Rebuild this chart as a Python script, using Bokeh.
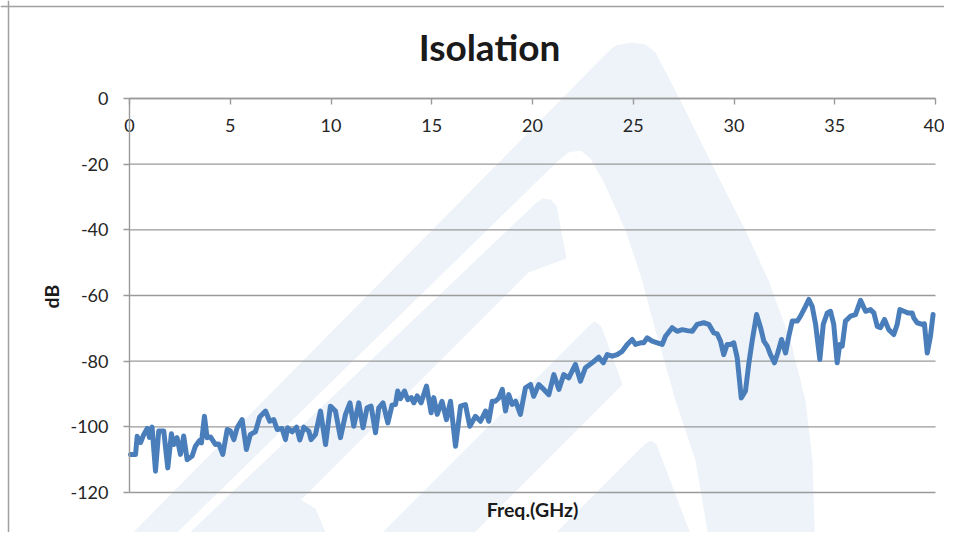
from math import pi
from bokeh.plotting import figure
from bokeh.models import LinearAxis, FixedTicker, Label, Span
from bokeh.embed import file_html
from bokeh.resources import INLINE

# ---------------- data ----------------
freq_ghz = [
    0.05, 0.3, 0.38, 0.55, 0.71, 0.88, 0.99, 1.12, 1.29, 1.45, 1.7, 1.9, 2.08, 2.2, 2.36,
    2.53, 2.69, 2.86, 3.11, 3.27, 3.47, 3.57, 3.72, 3.85, 4.02, 4.27, 4.43, 4.63, 4.85,
    5.01, 5.18, 5.34, 5.59, 5.8, 6.0, 6.25, 6.46, 6.75, 6.96, 7.16, 7.33, 7.57, 7.74,
    7.85, 8.07, 8.29, 8.45, 8.65, 8.9, 9.01, 9.23, 9.48, 9.73, 9.97, 10.22, 10.47, 10.72,
    10.94, 11.13, 11.38, 11.59, 11.79, 11.99, 12.21, 12.37, 12.58, 12.82, 13.03, 13.2,
    13.31, 13.45, 13.65, 13.81, 13.98, 14.11, 14.28, 14.47, 14.74, 14.97, 15.1, 15.27,
    15.51, 15.73, 15.93, 16.18, 16.43, 16.67, 16.89, 17.17, 17.42,
    17.67, 17.83, 18.0, 18.16, 18.33, 18.5, 18.66, 18.82, 18.99, 19.16, 19.4, 19.65,
    19.9, 20.06, 20.31, 20.56, 20.81, 21.06, 21.31, 21.55, 21.8, 22.13, 22.38, 22.63,
    22.96, 23.29, 23.51, 23.71, 23.96, 24.2, 24.45, 24.7, 24.95, 25.11, 25.36, 25.52,
    25.69, 25.94, 26.19, 26.44, 26.6, 26.93, 27.18, 27.43, 27.68, 27.93, 28.17, 28.5,
    28.75, 29.0, 29.17, 29.33, 29.49, 29.66, 29.83, 29.99, 30.16, 30.36, 30.57, 30.73,
    30.9, 31.12, 31.32, 31.48, 31.65, 31.81, 32.01, 32.17, 32.36, 32.56, 32.72, 32.89,
    33.14, 33.3, 33.55, 33.71, 33.88, 34.05, 34.26, 34.43, 34.63, 34.79, 34.95, 35.12,
    35.25, 35.37, 35.53, 35.78, 36.03, 36.28, 36.53, 36.77, 36.94, 37.11, 37.27, 37.47,
    37.68, 37.93, 38.1, 38.23, 38.43, 38.63, 38.84, 38.92, 39.09, 39.34, 39.45, 39.59,
    39.75, 39.88,
]
isolation_db = [
    -108.4, -108.4, -102.9, -104.8, -102.3, -100.5, -103.2, -100.1, -113.5, -101.3, -101.3,
    -112.5, -102.1, -105.4, -103.3, -108.4, -102.8, -110.0, -108.9, -105.9, -104.2, -104.9,
    -96.8, -103.3, -103.1, -105.4, -105.2, -108.4, -100.8, -101.3, -103.9, -100.3, -97.8,
    -106.9, -102.3, -101.5, -97.0, -95.2, -98.3, -97.8, -100.8, -100.5, -103.9, -100.3,
    -101.5, -100.1, -104.0, -100.1, -101.3, -103.9, -102.3, -95.2, -105.4, -93.7, -95.2,
    -103.3, -96.2, -92.7, -99.8, -92.7, -100.3, -94.2, -93.7, -101.8, -94.2, -92.7, -98.8,
    -93.4, -93.2, -89.1, -91.4, -89.1, -91.7, -91.1, -92.7, -90.6, -92.7, -87.6, -95.7,
    -91.1, -96.2, -92.2, -97.8, -92.2, -105.9, -93.7, -93.2, -99.8, -96.8, -98.3,
    -95.2, -98.3, -92.2, -92.2, -91.2, -88.6, -95.2, -90.2, -93.2, -92.2, -96.2, -88.1,
    -87.1, -90.7, -87.1, -88.6, -90.2, -84.1, -88.6, -84.1, -85.1, -81.0, -86.1, -82.0,
    -80.5, -78.8, -80.5, -78.0, -78.5, -78.0, -77.0, -74.9, -73.4, -74.9, -74.4, -74.4,
    -72.9, -73.9, -74.4, -74.9, -72.4, -69.8, -70.9, -70.4, -70.7, -70.9, -68.8, -68.3,
    -68.8, -71.4, -71.7, -73.9, -78.0, -74.9, -74.9, -74.4, -79.0, -91.2, -89.1, -81.0,
    -73.9, -65.8, -69.8, -73.9, -75.4, -78.0, -80.5, -77.5, -73.4, -77.5, -72.4, -67.8,
    -67.8, -66.3, -63.3, -61.2, -63.3, -68.8, -79.5, -68.8, -65.3, -64.8, -68.8, -80.5,
    -74.9, -75.4, -67.8, -66.3, -65.8, -61.5, -64.8, -64.3, -65.3, -69.4, -69.8, -67.3,
    -70.4, -71.9, -68.8, -64.3, -64.8, -65.3, -65.3, -66.8, -68.3, -68.8, -68.6, -77.5,
    -72.4, -65.8,
]
x_ticks = [0, 5, 10, 15, 20, 25, 30, 35, 40]
y_ticks = [0, -20, -40, -60, -80, -100, -120]
title_text = "Isolation"
x_title = "Freq.(GHz)"
y_title = "dB"

# ---------------- layout ----------------
W, H = 944, 532
X0_PX, X1_PX = 129.0, 935.0     # canvas px of x = 0 and x = 40
Y0_PX, Y1_PX = 98.0, 492.0      # canvas px of y = 0 and y = -120
x_lo, x_hi = x_ticks[0], x_ticks[-1]
y_hi, y_lo = y_ticks[0], y_ticks[-1]
kx = (X1_PX - X0_PX) / (x_hi - x_lo)
ky = (Y1_PX - Y0_PX) / (y_hi - y_lo)
x_start = x_lo - X0_PX / kx
x_end = x_lo + (W - X0_PX) / kx
y_end = y_hi + Y0_PX / ky
y_start = y_lo - (H - Y1_PX) / ky

def px_x(px):
    return x_lo + (px - X0_PX) / kx

def px_y(py):
    return y_hi - (py - Y0_PX) / ky

p = figure(width=W, height=H, x_range=(x_start, x_end), y_range=(y_start, y_end),
           output_backend="svg", toolbar_location=None, min_border=0,
           x_axis_location=None, y_axis_location=None)
p.outline_line_color = None
p.background_fill_color = "white"
p.border_fill_color = "white"
p.xgrid.visible = False
p.ygrid.visible = False

# ---------------- watermark (decorative background logo) ----------------
wm_shapes = [
    [(105, 560), (607, 52), (615, 45), (630, 42), (645, 44), (655, 52), (680, 100), (713, 167),
     (745, 230), (768, 280), (790, 340), (805, 400), (812, 460), (815, 560),
     (712, 560), (695, 460), (675, 400), (655, 330), (640, 274), (625, 230), (605, 185),
     (590, 158), (580, 150), (568, 152), (558, 160), (148, 560)],
    [(160, 560), (535, 203), (542, 198), (550, 199), (556, 205), (566, 258), (528, 272), (240, 560)],
    [(354, 560), (588, 326), (594, 321), (601, 326), (622, 384), (446, 560)],
    [(528, 560), (644, 444), (650, 440), (656, 444), (700, 560)],
    [(236, 560), (262, 510), (280, 499), (298, 498), (315, 508), (337, 560)],
]
wm_xs = [[px_x(a) for a, _ in shp] for shp in wm_shapes]
wm_ys = [[px_y(b) for _, b in shp] for shp in wm_shapes]
p.patches(wm_xs, wm_ys, fill_color="#edf3f9", line_color=None)

# ---------------- grid lines ----------------
GRID = "#9a9a9a"
p.segment(x0=[x_lo] * len(y_ticks), x1=[x_hi] * len(y_ticks), y0=y_ticks, y1=y_ticks,
          line_color=GRID, line_width=1.4)

# ---------------- data line ----------------
p.line(freq_ghz, isolation_db, line_width=5, line_color="#4a7ebb", line_join="round", line_cap="round")

# ---------------- axes ----------------
FONT = "Lato"
xaxis = LinearAxis(fixed_location=0, ticker=FixedTicker(ticks=x_ticks), bounds=(x_lo, x_hi))
yaxis = LinearAxis(fixed_location=0, ticker=FixedTicker(ticks=y_ticks), bounds=(y_lo, y_hi))
for ax, ticks in ((xaxis, x_ticks), (yaxis, y_ticks)):
    ax.axis_line_color = GRID
    ax.axis_line_width = 1.4
    ax.major_tick_line_color = GRID
    ax.major_tick_line_width = 1.4
    ax.major_tick_in = 0
    ax.major_tick_out = 6
    ax.minor_tick_in = 0
    ax.minor_tick_out = 0
    ax.major_label_text_font = FONT
    ax.major_label_text_font_size = "18px"
    ax.major_label_text_color = "#262626"
    ax.major_label_overrides = {t: str(t) for t in ticks}
xaxis.major_label_standoff = 14
yaxis.major_label_standoff = 15
p.add_layout(xaxis, "below")
p.add_layout(yaxis, "left")

# ---------------- titles ----------------
p.add_layout(Label(x=489, y=H - 46, x_units="screen", y_units="screen", text=title_text,
                   text_align="center", text_baseline="alphabetic", text_font=FONT,
                   text_font_size="37px", text_font_style="bold", text_color="#1a1a1a"))
p.add_layout(Label(x=(X0_PX + X1_PX) / 2, y=H - 509, x_units="screen", y_units="screen",
                   text=x_title, text_align="center", text_baseline="alphabetic",
                   text_font=FONT, text_font_size="19.5px", text_font_style="bold",
                   text_color="#1a1a1a"))
p.add_layout(Label(x=51, y=H - 296, x_units="screen", y_units="screen", text=y_title,
                   angle=pi / 2, text_align="center", text_baseline="middle",
                   text_font=FONT, text_font_size="19.5px", text_font_style="bold",
                   text_color="#1a1a1a"))

# ---------------- chart border (left and top) ----------------
p.add_layout(Span(location=px_x(8), dimension="height", line_color="#a0a0a0", line_width=1.5))
p.add_layout(Span(location=px_y(6), dimension="width", line_color="#a0a0a0", line_width=1.5))

open("out.html", "w").write(file_html(p, INLINE))
